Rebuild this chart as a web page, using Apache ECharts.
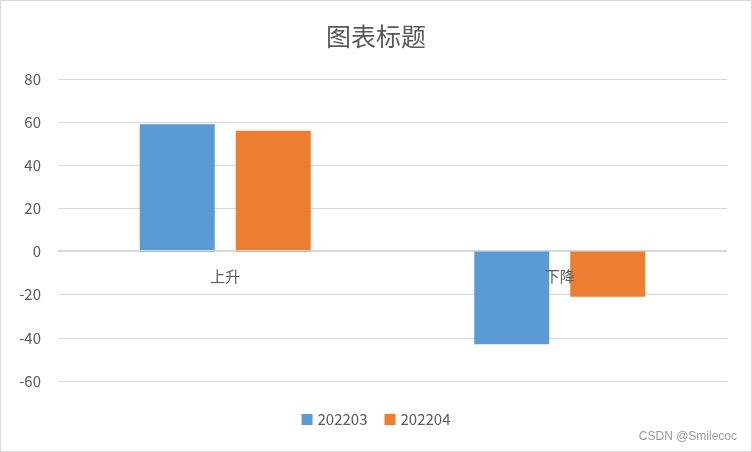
<!DOCTYPE html>
<html><head><meta charset="utf-8">
<script src="https://cdn.jsdelivr.net/npm/echarts@6/dist/echarts.min.js"></script>
<style>html,body{margin:0;padding:0;background:#fff}#c{width:752px;height:452px;box-sizing:border-box;border:1px solid #d9d9d9}</style>
</head><body><div id="c"></div>
<script>
const categories = ['上升', '下降'];
const seriesNames = ['202203', '202204'];
const values202203 = [59, -43];
const values202204 = [56, -21];
const yTicks = { min: -60, max: 80, interval: 20 };

const H = 452, gridTop = 78, gridBottom = 70;
const plotH = H - gridTop - gridBottom;
// place category axis on the zero line of the value scale
const zeroOffset = -plotH * (0 - yTicks.min) / (yTicks.max - yTicks.min);

const chart = echarts.init(document.getElementById('c'), null, { renderer: 'canvas' });
const font = '"Noto Sans CJK SC", "Noto Sans", sans-serif';
chart.setOption({
  animation: false,
  title: { text: '图表标题', left: 'center', top: 18,
    textStyle: { fontSize: 25, fontWeight: 'normal', color: '#595959', fontFamily: font } },
  grid: { left: 57, right: 24, top: gridTop, bottom: gridBottom },
  legend: { bottom: 19, left: 'center', itemWidth: 11, itemHeight: 11, itemGap: 17,
    icon: 'rect', textStyle: { fontSize: 15, color: '#595959', fontFamily: font }, data: seriesNames },
  xAxis: { type: 'category', data: categories, offset: zeroOffset, z: 10,
    axisLine: { show: true, onZero: false, lineStyle: { color: '#d9d9d9' } }, axisTick: { show: false },
    axisLabel: { fontSize: 15, color: '#595959', margin: 18, fontFamily: font } },
  yAxis: { type: 'value', min: yTicks.min, max: yTicks.max, interval: yTicks.interval,
    axisLine: { show: false }, axisTick: { show: false },
    splitLine: { lineStyle: { color: '#d9d9d9', width: 1 } },
    axisLabel: { fontSize: 15, color: '#595959', margin: 17, fontFamily: font } },
  series: [
    { name: seriesNames[0], type: 'bar', data: values202203, barWidth: 75, barGap: '28%',
      itemStyle: { color: '#5b9bd5' } },
    { name: seriesNames[1], type: 'bar', data: values202204, barWidth: 75, barGap: '28%',
      itemStyle: { color: '#ed7d31' } }
  ],
  graphic: [{ type: 'text', right: 14, bottom: 8,
    style: { text: 'CSDN @Smilecoc', fontSize: 12, fill: '#9a9a9a', fontFamily: '"Liberation Sans", Arial, sans-serif' } }]
});
</script></body></html>
